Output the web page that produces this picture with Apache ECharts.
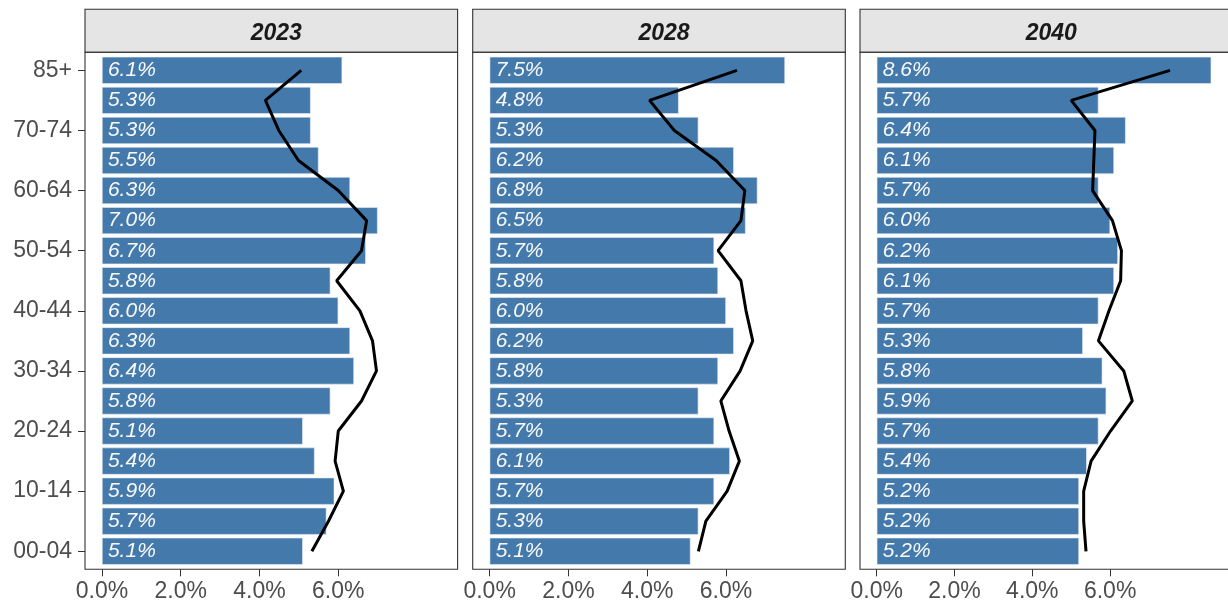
<!DOCTYPE html>
<html>
<head>
<meta charset="utf-8">
<script src="https://cdn.jsdelivr.net/npm/echarts@6/dist/echarts.min.js"></script>
<style>
    html, body { margin: 0; padding: 0; background: #fff; }
    #main { width: 1228px; height: 605px; }
</style>
</head>
<body>
<div id="main"></div>
<script>
    // age groups, bottom to top
    var ages = ['00-04','05-09','10-14','15-19','20-24','25-29','30-34','35-39','40-44',
                '45-49','50-54','55-59','60-64','65-69','70-74','75-84','85+'];
    var years = ['2023', '2028', '2040'];

    // bar shares (%)
    var bars2023 = [5.1,5.7,5.9,5.4,5.1,5.8,6.4,6.3,6.0,5.8,6.7,7.0,6.3,5.5,5.3,5.3,6.1];
    var bars2028 = [5.1,5.3,5.7,6.1,5.7,5.3,5.8,6.2,6.0,5.8,5.7,6.5,6.8,6.2,5.3,4.8,7.5];
    var bars2040 = [5.2,5.2,5.2,5.4,5.7,5.9,5.8,5.3,5.7,6.1,6.2,6.0,5.7,6.1,6.4,5.7,8.6];

    // reference line (%)
    var line2023 = [5.33,5.75,6.13,5.92,6.00,6.59,6.97,6.87,6.55,5.96,6.59,6.72,6.00,4.99,4.49,4.15,5.06];
    var line2028 = [5.30,5.49,6.03,6.34,6.08,5.87,6.36,6.68,6.51,6.38,5.80,6.38,6.48,5.75,4.69,4.06,6.28];
    var line2040 = [5.38,5.32,5.32,5.51,6.01,6.57,6.35,5.70,5.97,6.27,6.29,6.06,5.55,5.58,5.61,5.00,7.54];

    var xTicks = [0, 2, 4, 6];

    var barSets = [bars2023, bars2028, bars2040];
    var lineSets = [line2023, line2028, line2040];

    // layout of the facets
    var panelLefts = [85, 472.7, 860];
    var panelW = 372.6;
    var stripTop = 9.3, panelTop = 52.3, panelBottom = 569.3;
    var font = 'Liberation Sans, Arial, sans-serif';

    var dataMax = Math.max.apply(null, [].concat(bars2023, bars2028, bars2040, line2023, line2028, line2040));
    var unit = (panelBottom - panelTop) / (ages.length - 1 + 1.2);
    var gridTop = panelTop + 0.1 * unit;
    var gridH = ages.length * unit;

    var grids = [], xAxes = [], yAxes = [], series = [], titles = [], graphics = [];
    for (var i = 0; i < 3; i++) {
        var L = panelLefts[i];
        grids.push({ left: L, top: gridTop, width: panelW, height: gridH });
        xAxes.push({
            type: 'value', gridIndex: i, min: -dataMax * 0.05, max: dataMax * 1.05,
            offset: panelBottom - (gridTop + gridH),
            axisLine: { show: false, onZero: false },
            splitLine: { show: false },
            axisTick: { show: true, length: 7, customValues: xTicks, lineStyle: { color: '#333', width: 1 } },
            axisLabel: {
                customValues: xTicks, margin: 11, color: '#4d4d4d', fontSize: 23, fontFamily: font,
                formatter: function (v) { return v.toFixed(1) + '%'; }
            }
        });
        yAxes.push({
            type: 'category', gridIndex: i, data: ages,
            axisLine: { show: false, onZero: false },
            axisTick: { show: i === 0, length: 7, interval: 1, alignWithLabel: true, lineStyle: { color: '#333' } },
            axisLabel: { show: i === 0, interval: 1, margin: 13, color: '#4d4d4d', fontSize: 23, fontFamily: font }
        });
        series.push({
            type: 'bar', xAxisIndex: i, yAxisIndex: i, data: barSets[i],
            barCategoryGap: '10%',
            itemStyle: { color: '#4479ab', borderColor: '#e8eef5', borderWidth: 0.6 },
            label: {
                show: true, position: 'insideLeft', distance: 6,
                color: '#fafafa', fontStyle: 'italic', fontSize: 21, fontFamily: font,
                formatter: function (p) { return p.value.toFixed(1) + '%'; }
            },
            silent: true
        });
        series.push({
            type: 'line', xAxisIndex: i, yAxisIndex: i, data: lineSets[i],
            symbol: 'none', z: 5,
            lineStyle: { color: '#000', width: 3 }
        });
        titles.push({
            text: years[i], left: L + panelW / 2, top: (stripTop + panelTop) / 2 - 2.5, textAlign: 'center', textVerticalAlign: 'middle',
            textStyle: { fontSize: 23, fontWeight: 'bold', fontStyle: 'italic', color: '#1a1a1a', fontFamily: font }
        });
        graphics.push({
            type: 'rect', z: -1,
            shape: { x: L, y: stripTop, width: panelW, height: panelTop - stripTop },
            style: { fill: '#e5e5e5', stroke: '#333', lineWidth: 1.1 }
        });
        graphics.push({
            type: 'rect', z: 100,
            shape: { x: L, y: panelTop, width: panelW, height: panelBottom - panelTop },
            style: { fill: null, stroke: '#333', lineWidth: 1.1 }
        });
    }

    var myChart = echarts.init(document.getElementById('main'));
    var option = {
        backgroundColor: '#fff',
        animation: false,
        title: titles,
        grid: grids,
        xAxis: xAxes,
        yAxis: yAxes,
        series: series,
        graphic: graphics
    };
    myChart.setOption(option);
</script>
</body>
</html>
